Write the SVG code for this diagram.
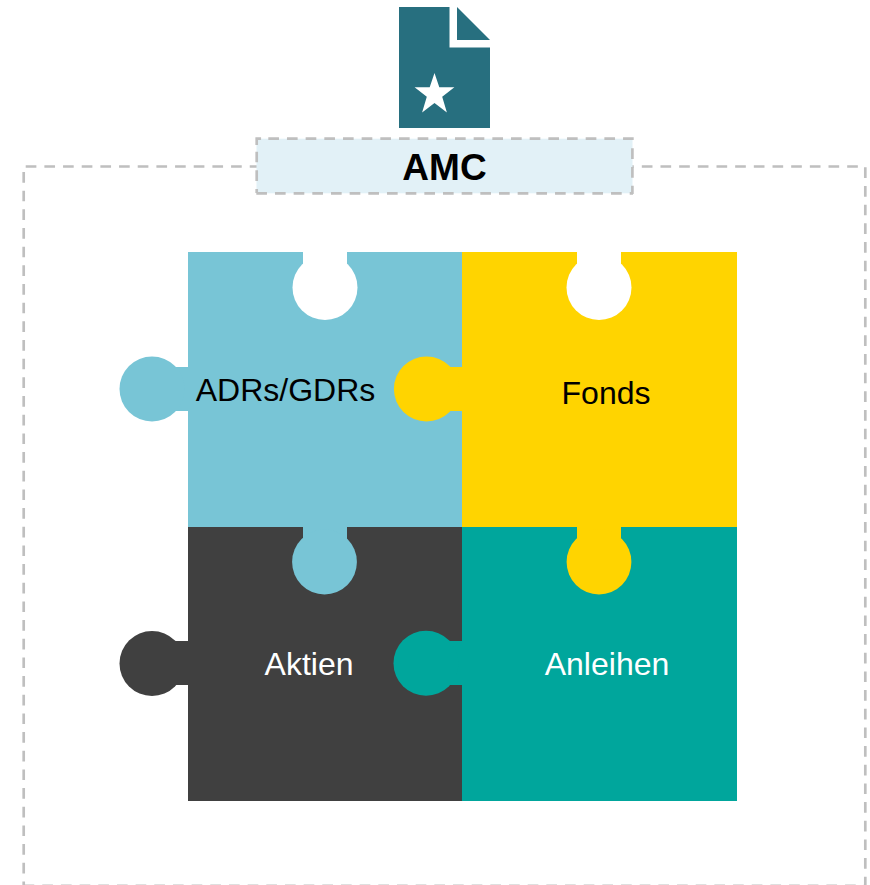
<svg xmlns="http://www.w3.org/2000/svg" width="870" height="885" viewBox="0 0 870 885">
<style>
.dash{fill:none;stroke:#bfbfbf;stroke-width:2.67;stroke-dasharray:10.67 8}
text{font-family:"Liberation Sans",Arial,sans-serif;font-size:32px;text-anchor:middle}
.w{fill:#fff}.k{fill:#000}
</style>
<rect width="870" height="885" fill="#fff"/>
<g id="frame"><path class="dash" d="M25.7 166.5H860M865.3 167.3V885M23.7 172V885M23.6 885.8H864"/></g>
<g id="icon">
<path fill="#276f7f" d="M399 7H449.5V47.5H490V128H399Z"/>
<path fill="#276f7f" d="M457 7L490 40H457Z"/>
<path fill="#fff" d="M434.5 73L439.3 87.3H454.4L442.2 96.8L446.9 112.6L434.5 103L422.1 112.6L426.8 96.8L414.6 87.3H429.7Z"/>
</g>
<g id="amc">
<rect x="256.5" y="138.7" width="376" height="54.6" fill="#e2f1f7"/>
<path class="dash" d="M256.7 145V138.7H263M268.3 138.7H633.7M632.4 148.3V194M256.3 193.3H633M256.7 151.7V193"/>
<text x="444.5" y="180" style="font-size:37px;font-weight:700" class="k">AMC</text>
</g>
<g id="adrs">
<rect x="188" y="252" width="274" height="275" fill="#78c5d6"/>
<rect x="170" y="367" width="20" height="44" fill="#78c5d6"/>
<circle cx="152" cy="389" r="32.5" fill="#78c5d6"/>
<rect x="303" y="252" width="44" height="30" fill="#fff"/>
<circle cx="325" cy="287.5" r="32.5" fill="#fff"/>
<text x="285.5" y="401" class="k">ADRs/GDRs</text>
</g>
<g id="aktien">
<rect x="188" y="527" width="274" height="274" fill="#404040"/>
<rect x="170" y="641" width="20" height="44" fill="#404040"/>
<circle cx="152" cy="663.5" r="32.5" fill="#404040"/>
<rect x="303" y="525" width="44" height="30" fill="#78c5d6"/>
<circle cx="324.5" cy="562" r="32.4" fill="#78c5d6"/>
<text x="309" y="675" class="w">Aktien</text>
</g>
<g id="fonds">
<rect x="462" y="252" width="275" height="275" fill="#ffd400"/>
<rect x="440" y="367" width="24" height="44" fill="#ffd400"/>
<circle cx="426.5" cy="389" r="32.6" fill="#ffd400"/>
<rect x="577" y="252" width="44" height="30" fill="#fff"/>
<circle cx="599" cy="287.5" r="32.5" fill="#fff"/>
<text x="606" y="404" class="k">Fonds</text>
</g>
<g id="anleihen">
<rect x="462" y="527" width="275" height="274" fill="#00a69c"/>
<rect x="440" y="641" width="24" height="44" fill="#00a69c"/>
<circle cx="426" cy="663.3" r="32.5" fill="#00a69c"/>
<rect x="577" y="525" width="44" height="30" fill="#ffd400"/>
<circle cx="599" cy="562" r="32.4" fill="#ffd400"/>
<text x="607" y="675" class="w">Anleihen</text>
</g>
<g id="connectors"/>
</svg>
